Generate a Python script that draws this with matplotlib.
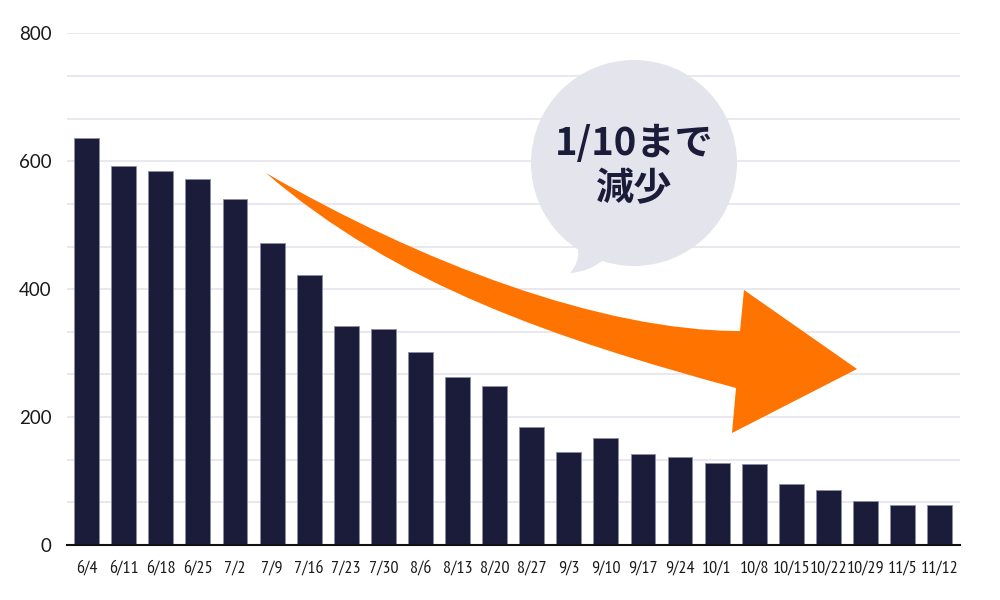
import matplotlib
matplotlib.use("Agg")
import matplotlib.pyplot as plt
from matplotlib.path import Path
from matplotlib.patches import PathPatch, Circle
from matplotlib.ticker import MultipleLocator
import matplotlib.transforms as mtransforms

# data
weeks = ["6/4", "6/11", "6/18", "6/25", "7/2", "7/9", "7/16", "7/23", "7/30",
         "8/6", "8/13", "8/20", "8/27", "9/3", "9/10", "9/17", "9/24", "10/1",
         "10/8", "10/15", "10/22", "10/29", "11/5", "11/12"]
counts = [636, 592, 585, 572, 541, 473, 422, 343, 338, 302, 263, 249, 184,
          146, 168, 143, 137, 128, 127, 95, 86, 69, 63, 63]
y_ticks = [0, 200, 400, 600, 800]
bubble_text = "1/10まで\n減少"

navy = "#1b1c3a"
orange = "#ff7300"
bubble_col = "#e4e4ec"
grid_col = "#e8e8ee"

fig = plt.figure(figsize=(10, 6), dpi=100)
ax = fig.add_axes([0.067, 0.0917, 0.893, 0.8525])

x = list(range(len(weeks)))
ax.bar(x, counts, width=0.67, color=navy, edgecolor="#8c8ca4", linewidth=0.6, zorder=3)

ax.set_xlim(-0.53, len(weeks) - 0.45)
ax.set_ylim(0, 800)
ax.set_yticks(y_ticks)
ax.yaxis.set_minor_locator(MultipleLocator(200 / 3))
ax.grid(axis="y", which="both", color=grid_col, linewidth=1.4, zorder=0)
ax.set_axisbelow(True)

ax.set_xticks(x)
ax.set_xticklabels(weeks, family=["PT Sans Narrow", "Lato"], fontsize=13, color="#1a1a1a")
for lab in ax.get_yticklabels():
    lab.set_family("Lato")
    lab.set_fontsize(13.5)
    lab.set_color("#1a1a1a")
ax.tick_params(axis="both", which="both", length=0)
ax.tick_params(axis="x", pad=11)
ax.tick_params(axis="y", pad=11)

for s in ["top", "right", "left"]:
    ax.spines[s].set_visible(False)
ax.spines["bottom"].set_color("#111111")
ax.spines["bottom"].set_linewidth(1.5)
ax.spines["bottom"].set_zorder(4)

# annotation layer in pixel coords (origin top-left)
px = mtransforms.Affine2D().scale(1 / 1000, -1 / 600).translate(0, 1) + fig.transFigure

# speech bubble
bubble = Circle((634, 163), 103, transform=px, facecolor=bubble_col, edgecolor="none", zorder=5)
fig.patches.append(bubble)
tail_verts = [(578, 248), (580, 262), (570, 273), (590, 272), (606, 258), (578, 248)]
tail_codes = [Path.MOVETO, Path.CURVE3, Path.CURVE3, Path.CURVE3, Path.CURVE3, Path.CLOSEPOLY]
fig.patches.append(PathPatch(Path(tail_verts, tail_codes), transform=px,
                             facecolor=bubble_col, edgecolor="none", zorder=5))
fig.text(0.634, 1 - 166 / 600, bubble_text, ha="center", va="center",
         family=["Noto Sans CJK JP", "DejaVu Sans"], fontweight="bold",
         fontsize=27.5, color=navy, linespacing=1.2, zorder=6)

# curved orange arrow
arrow_verts = [
    (266, 173),
    (420, 262), (600, 331), (740, 331),   # upper edge
    (744, 290), (857, 369), (732, 433),   # head
    (736, 388),
    (556, 339), (396, 285), (266, 173),   # lower edge back
    (266, 173),
]
arrow_codes = [
    Path.MOVETO,
    Path.CURVE4, Path.CURVE4, Path.CURVE4,
    Path.LINETO, Path.LINETO, Path.LINETO,
    Path.LINETO,
    Path.CURVE4, Path.CURVE4, Path.CURVE4,
    Path.CLOSEPOLY,
]
fig.patches.append(PathPatch(Path(arrow_verts, arrow_codes), transform=px,
                             facecolor=orange, edgecolor="none", zorder=5))

fig.savefig("out.png", dpi=100)
